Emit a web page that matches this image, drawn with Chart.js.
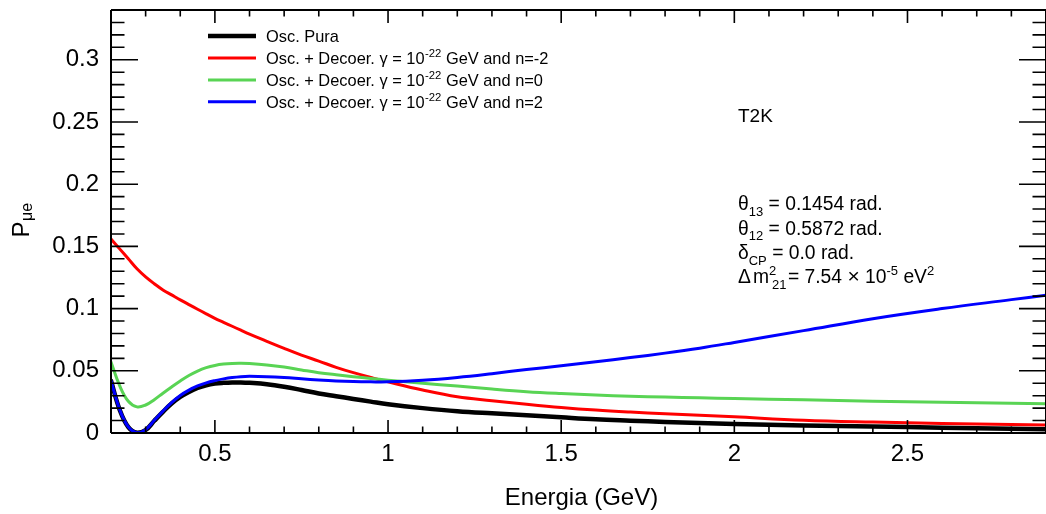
<!DOCTYPE html>
<html>
<head>
<meta charset="utf-8">
<script src="https://cdn.jsdelivr.net/npm/chart.js@4/dist/chart.umd.min.js"></script>
<style>
html,body{margin:0;padding:0;background:#fff;}
#c{display:block;}
</style>
</head>
<body>
<canvas id="c" width="1046" height="514"></canvas>
<script>
// ---- data ----
const energy    = [0.200,0.225,0.250,0.275,0.300,0.325,0.350,0.375,0.400,0.425,0.450,0.475,0.500,0.525,0.550,0.575,0.600,0.650,0.700,0.750,0.800,0.850,0.900,0.950,1.000,1.100,1.200,1.300,1.400,1.500,1.600,1.700,1.800,1.900,2.000,2.200,2.400,2.600,2.800,2.900];
const oscPura   = [0.0420,0.0187,0.0047,0.0002,0.0024,0.0098,0.0170,0.0237,0.0290,0.0330,0.0362,0.0384,0.0397,0.0403,0.0406,0.0406,0.0403,0.0392,0.0372,0.0346,0.0318,0.0296,0.0274,0.0252,0.0231,0.0200,0.0175,0.0158,0.0143,0.0126,0.0110,0.0099,0.0089,0.0080,0.0073,0.0061,0.0052,0.0043,0.0035,0.0031];
const decoerNm2 = [0.1560,0.1480,0.1400,0.1320,0.1255,0.1200,0.1150,0.1110,0.1070,0.1032,0.0995,0.0958,0.0922,0.0890,0.0858,0.0826,0.0795,0.0737,0.0680,0.0626,0.0578,0.0528,0.0485,0.0447,0.0411,0.0345,0.0291,0.0260,0.0231,0.0205,0.0184,0.0168,0.0155,0.0143,0.0130,0.0103,0.0088,0.0077,0.0068,0.0064];
const decoerN0  = [0.0570,0.0380,0.0255,0.0210,0.0225,0.0268,0.0320,0.0370,0.0418,0.0462,0.0498,0.0525,0.0543,0.0554,0.0559,0.0560,0.0558,0.0547,0.0530,0.0507,0.0485,0.0468,0.0453,0.0438,0.0425,0.0400,0.0377,0.0353,0.0332,0.0317,0.0305,0.0296,0.0289,0.0283,0.0277,0.0267,0.0256,0.0247,0.0240,0.0236];
const decoerN2  = [0.0420,0.0189,0.0049,0.0003,0.0027,0.0102,0.0176,0.0245,0.0302,0.0345,0.0378,0.0403,0.0421,0.0435,0.0446,0.0453,0.0456,0.0453,0.0446,0.0436,0.0426,0.0418,0.0413,0.0411,0.0411,0.0424,0.0447,0.0477,0.0510,0.0540,0.0572,0.0606,0.0642,0.0682,0.0728,0.0823,0.0919,0.1000,0.1072,0.1108];

const xTickValues = [0.5,1,1.5,2,2.5];
const xTickLabels = ['0.5','1','1.5','2','2.5'];
const yTickValues = [0,0.05,0.1,0.15,0.2,0.25,0.3];
const yTickLabels = ['0','0.05','0.1','0.15','0.2','0.25','0.3'];

const seriesNames  = ['Osc. Pura','Osc. + Decoer. γ = 10','Osc. + Decoer. γ = 10','Osc. + Decoer. γ = 10'];
const seriesSup    = ['','-22','-22','-22'];
const seriesTail   = ['',' GeV and n=-2',' GeV and n=0',' GeV and n=2'];
const seriesColors = ['#000000','#ff0000','#59d454','#0000ff'];
const seriesWidths = [4.5,3,3,3];

const FONT = '"Liberation Sans", Arial, Helvetica, sans-serif';
function f(size){ return size + 'px ' + FONT; }

function pts(ys){ return energy.map((e,i)=>({x:e,y:ys[i]})); }

const rootFrame = {
  id:'rootFrame',
  afterDatasetsDraw(chart){
    const ctx = chart.ctx, a = chart.chartArea;
    const xs = chart.scales.x, ys = chart.scales.y;
    ctx.save();
    ctx.strokeStyle = '#000';
    ctx.lineWidth = 2;
    // frame
    ctx.beginPath();
    ctx.moveTo(a.left, a.top); ctx.lineTo(a.right, a.top);
    ctx.moveTo(a.left, a.bottom); ctx.lineTo(a.right, a.bottom);
    ctx.moveTo(a.left, a.top); ctx.lineTo(a.left, a.bottom);
    ctx.moveTo(a.right, a.top); ctx.lineTo(a.right, a.bottom);
    ctx.stroke();
    // x ticks (every 0.1, major every 0.5)
    ctx.lineWidth = 1.6;
    ctx.beginPath();
    for (let k = 2; k <= 29; k++) {
      const v = k/10, px = xs.getPixelForValue(v);
      const len = (k % 5 === 0) ? 13 : 6.5;
      ctx.moveTo(px, a.bottom); ctx.lineTo(px, a.bottom - len);
      ctx.moveTo(px, a.top); ctx.lineTo(px, a.top + len);
    }
    // y ticks (every 0.01, major every 0.05)
    for (let k = 0; k <= 34; k++) {
      const v = k/100, py = ys.getPixelForValue(v);
      const len = (k % 5 === 0) ? 27 : 13.5;
      ctx.moveTo(a.left, py); ctx.lineTo(a.left + len, py);
      ctx.moveTo(a.right, py); ctx.lineTo(a.right - len, py);
    }
    ctx.stroke();

    // legend
    const rowY = [36, 58, 80, 101.7];
    ctx.fillStyle = '#000';
    ctx.textBaseline = 'alphabetic';
    ctx.textAlign = 'left';
    for (let i = 0; i < 4; i++) {
      ctx.strokeStyle = seriesColors[i];
      ctx.lineWidth = seriesWidths[i];
      ctx.beginPath(); ctx.moveTo(208, rowY[i]); ctx.lineTo(256, rowY[i]); ctx.stroke();
      let x = 266, base = rowY[i] + 5.8;
      ctx.font = f(16.4); ctx.fillText(seriesNames[i], x, base); x += ctx.measureText(seriesNames[i]).width;
      if (seriesSup[i]) {
        ctx.font = f(11.3); ctx.fillText(seriesSup[i], x + 0.5, base - 6.6); x += ctx.measureText(seriesSup[i]).width + 0.5;
        ctx.font = f(16.4); ctx.fillText(seriesTail[i], x, base);
      }
    }

    // T2K
    ctx.font = f(19); ctx.fillText('T2K', 738, 121.7);

    // parameters
    function seq(x, base, parts){
      for (const p of parts) {
        ctx.font = f(p[1]);
        ctx.fillText(p[0], x + (p[3]||0), base + p[2]);
        if (!p[4]) x += ctx.measureText(p[0]).width + (p[3]||0);
      }
      return x;
    }
    seq(738, 210, [['θ',19.3,0],['13',13,5.5],[' = 0.1454 rad.',19.3,0]]);
    seq(738, 234.5, [['θ',19.3,0],['12',13,5.5],[' = 0.5872 rad.',19.3,0]]);
    seq(738, 258.5, [['δ',19.3,0],['CP',13,6.5],[' = 0.0 rad.',19.3,0]]);
    seq(738, 283.3, [['Δ',19.3,0],['m',19.3,0,2],['2',13,-8.5,0,true],['21',13,5.5,3],['= 7.54 ',19.3,0,1.5],['×',21,0],[' 10',19.3,0],['-5',13,-8.5],[' eV',19.3,0],['2',13,-8.5]]);

    // axis titles
    ctx.font = f(24);
    ctx.textAlign = 'center';
    ctx.fillText('Energia (GeV)', 581.5, 505);
    ctx.textAlign = 'left';
    ctx.translate(28.5, 237.5);
    ctx.rotate(-Math.PI/2);
    ctx.font = f(24);
    ctx.fillText('P', 0, 0);
    const wP = ctx.measureText('P').width;
    ctx.font = f(16);
    ctx.fillText('μe', wP + 0.5, 3.5);
    ctx.restore();
  }
};

function noPad(s){ s.paddingTop = 0; s.paddingBottom = 0; s.paddingLeft = 0; s.paddingRight = 0; }

new Chart(document.getElementById('c'), {
  type: 'line',
  data: {
    datasets: [
      {label: seriesNames[0], data: pts(oscPura),   borderColor: seriesColors[0], borderWidth: seriesWidths[0], order: 4},
      {label: seriesNames[1], data: pts(decoerNm2), borderColor: seriesColors[1], borderWidth: seriesWidths[1], order: 3},
      {label: seriesNames[2], data: pts(decoerN0),  borderColor: seriesColors[2], borderWidth: seriesWidths[2], order: 2},
      {label: seriesNames[3], data: pts(decoerN2),  borderColor: seriesColors[3], borderWidth: seriesWidths[3], order: 1}
    ]
  },
  options: {
    responsive: false,
    devicePixelRatio: 1,
    animation: false,
    elements: {
      point: {radius: 0, hoverRadius: 0},
      line: {tension: 0.4, fill: false, borderCapStyle: 'round', borderJoinStyle: 'round'}
    },
    layout: {padding: {left: 0, top: 10, right: -5, bottom: 0}},
    plugins: {legend: {display: false}, tooltip: {enabled: false}, title: {display: false}},
    scales: {
      x: {
        type: 'linear', position: 'bottom', min: 0.2, max: 2.9,
        grid: {display: false, drawTicks: false}, border: {display: false},
        afterBuildTicks: s => { s.ticks = xTickValues.map(v => ({value: v})); },
        afterFit: s => { s.height = 81; noPad(s); },
        ticks: {
          autoSkip: false, maxRotation: 0, padding: 7, color: '#000',
          font: {family: FONT, size: 24},
          callback: v => xTickLabels[xTickValues.indexOf(v)]
        }
      },
      y: {
        type: 'linear', position: 'left', min: 0, max: 0.34,
        grid: {display: false, drawTicks: false}, border: {display: false},
        afterBuildTicks: s => { s.ticks = yTickValues.map(v => ({value: v})); },
        afterFit: s => { s.width = 111; noPad(s); },
        ticks: {
          autoSkip: false, padding: 12, color: '#000',
          font: {family: FONT, size: 24},
          callback: v => yTickLabels[yTickValues.indexOf(v)]
        }
      }
    }
  },
  plugins: [rootFrame]
});
</script>
</body>
</html>
